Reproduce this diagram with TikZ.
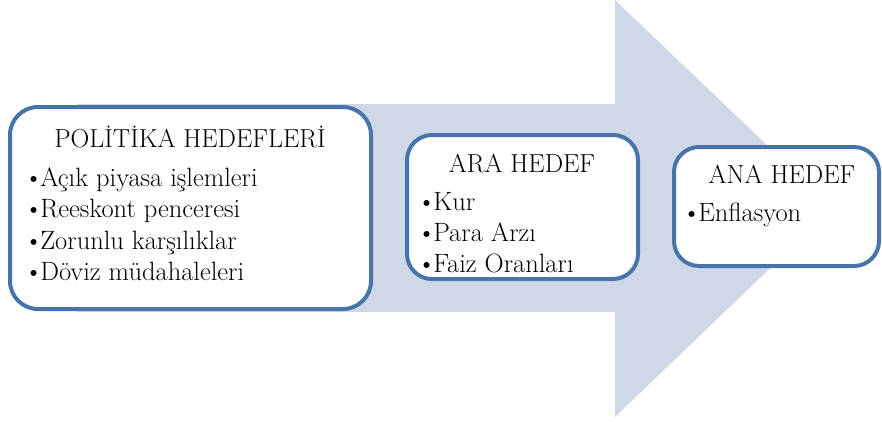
\documentclass[tikz,border=0pt]{standalone}
\usetikzlibrary{positioning}
\definecolor{okzemin}{RGB}{207,216,231}
\definecolor{kutucizgi}{RGB}{72,116,170}
\newcommand{\nokta}{•\kern-3pt}

\begin{document}
\begin{tikzpicture}[x=1pt, y=-1pt,
  hedef box/.style={draw=kutucizgi, line width=4pt, fill=white, rounded corners=28pt, inner sep=0pt},
  baslik/.style={anchor=base, inner sep=0pt, font=\fontsize{26}{30}\selectfont},
  madde/.style={anchor=base west, inner sep=0pt}]
        \tikzstyle{every node}=[font=\fontsize{26.5}{30}\selectfont]
        \useasboundingbox (0,0) rectangle (882,421);

        % big arrow behind the boxes
        \fill[okzemin] (77,104) -- (615,104) -- (615,0) -- (833,208) -- (615,417) -- (615,312) -- (77,312) -- cycle;

          \node[hedef box, minimum width=361pt, minimum height=202pt] (pol) at (190.5,208) {};
          \node[hedef box, minimum width=231pt, minimum height=144pt, rounded corners=25pt] (ara) at (522.5,207) {};
          \node[hedef box, minimum width=205pt, minimum height=119pt, rounded corners=25pt] (ana) at (776.5,206.5) {};

          \node[baslik] (pol title) at (190,147) {POLİTİKA HEDEFLERİ};
          \node[madde] (p1) at (24,186) {\nokta Açık piyasa işlemleri};
          \node[madde] (p2) [below=31.5pt of p1.base west, anchor=base west] {\nokta Reeskont penceresi};
          \node[madde] (p3) [below=31.5pt of p2.base west, anchor=base west] {\nokta Zorunlu karşılıklar};
          \node[madde] (p4) [below=31.5pt of p3.base west, anchor=base west] {\nokta Döviz müdahaleleri};

          \node[baslik] (ara title) at (522,172) {ARA HEDEF};
          \node[madde] (a1) at (417,210) {\nokta Kur};
          \node[madde] (a2) [below=31pt of a1.base west, anchor=base west] {\nokta Para Arzı};
          \node[madde] (a3) [below=31pt of a2.base west, anchor=base west] {\nokta Faiz Oranları};

          \node[baslik] (ana title) at (782,183) {ANA HEDEF};
          \node[madde] (e1) at (682,221) {\nokta Enflasyon};

        \end{tikzpicture}
\end{document}
